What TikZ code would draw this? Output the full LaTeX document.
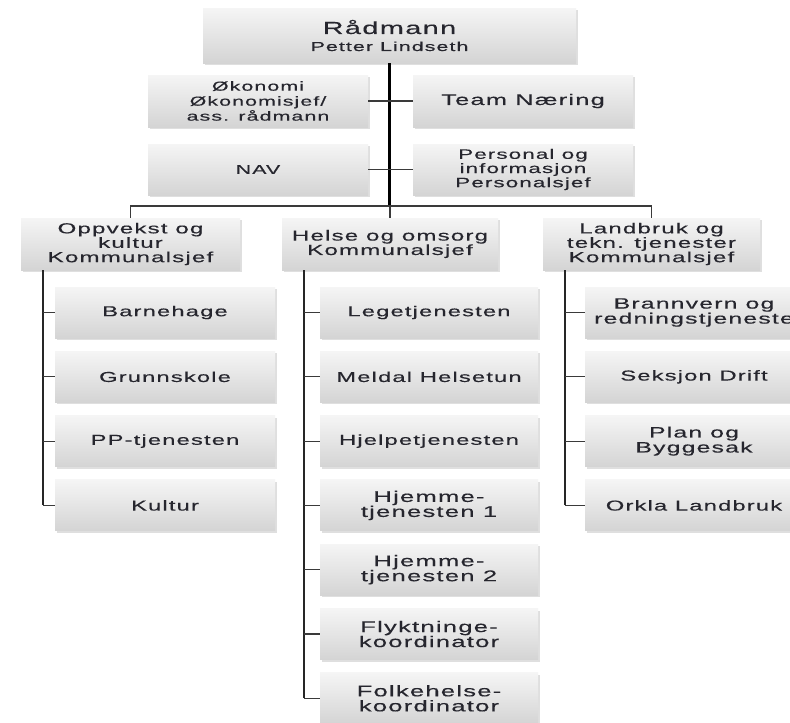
\documentclass[tikz,border=0pt]{standalone}
\usepackage{fontspec}
\setmainfont{Liberation Sans}[FakeStretch=1.65,LetterSpace=8,FakeBold=0.3]
\usetikzlibrary{shadows}
\definecolor{txt}{HTML}{26262E}
\definecolor{boxtop}{HTML}{F5F5F5}
\definecolor{boxbot}{HTML}{D4D4D4}
\definecolor{linegray}{HTML}{3A3A3A}
\newcommand{\fs}[2]{\fontsize{#1}{#2}\selectfont\lineskiplimit=-6pt\relax}
\tikzset{
  box/.style={draw=none, top color=boxtop, bottom color=boxbot,
    minimum width=218pt, minimum height=51pt, inner sep=1pt,
    align=center, text=txt, font=\fs{14.4}{14.5},
    drop shadow={opacity=0.25, shadow xshift=1.5pt, shadow yshift=-2pt, fill=gray}},
  trunk/.style={line width=2.6pt, draw=black},
  bus/.style={line width=2.2pt, draw=black!85},
  twig/.style={line width=1.1pt, draw=linegray}
}
\begin{document}
\begin{tikzpicture}[x=1pt,y=-1pt]
\useasboundingbox (0,0) rectangle (790,723);
\fill[white] (0,0) rectangle (790,723);
\clip (0,0) rectangle (790,723);

% top
\node[box, minimum width=373pt, minimum height=55pt, font=\fs{13}{15}] (rad) at (389.5,35.5)
  {{\fs{17.5}{19}Rådmann}\\[2pt]{\fs{13}{15}Petter Lindseth}};

% staff
\node[box, minimum width=220pt, minimum height=52pt, font=\fs{13}{15}] (oko) at (258,101) {Økonomi\\Økonomisjef/\\ass. rådmann};
\node[box, minimum width=220pt, minimum height=52pt, font=\fs{15.4}{15}] (team) at (523,101) {Team Næring};
\node[box, minimum width=220pt, font=\fs{13}{14}] (nav) at (258,169.5) {NAV};
\node[box, minimum width=220pt, font=\fs{13.6}{14.2}] (pers) at (523,169.5) {Personal og\\informasjon\\Personalsjef};

% level 2
\node[box, minimum width=219pt, minimum height=52pt, font=\fs{14.6}{14.4}] (opp) at (130.5,244) {Oppvekst og\\kultur\\Kommunalsjef};
\node[box, minimum width=216pt, minimum height=52pt, font=\fs{14.6}{14.4}] (hel) at (390,244) {Helse og omsorg\\Kommunalsjef};
\node[box, minimum width=217pt, minimum height=52pt, font=\fs{14.6}{14.4}] (lan) at (651.5,244) {Landbruk og\\tekn. tjenester\\Kommunalsjef};

% level 3 Oppvekst
\node[box, minimum width=220pt] (barn) at (165,312.5) {Barnehage};
\node[box, minimum width=220pt] (grunn) at (165,376.8) {Grunnskole};
\node[box, minimum width=220pt] (pp) at (165,441.1) {PP-tjenesten};
\node[box, minimum width=220pt] (kult) at (165,505.4) {Kultur};

% level 3 Helse
\node[box] (lege) at (429,312.5) {Legetjenesten};
\node[box] (meld) at (429,376.8) {Meldal Helsetun};
\node[box] (hjelp) at (429,441.1) {Hjelpetjenesten};
\node[box, font=\fs{15.5}{15}] (hj1) at (429,505.4) {Hjemme-\\tjenesten 1};
\node[box, font=\fs{15.5}{15}] (hj2) at (429,569.7) {Hjemme-\\tjenesten 2};
\node[box, font=\fs{15.5}{15}] (flykt) at (429,634) {Flyktninge-\\koordinator};
\node[box, font=\fs{15.5}{15}] (folk) at (429,698.3) {Folkehelse-\\koordinator};

% level 3 Landbruk
\node[box, font=\fs{15}{15}] (brann) at (694,312.5) {Brannvern og\\redningstjeneste};
\node[box] (seks) at (694,376.8) {Seksjon Drift};
\node[box, font=\fs{15}{15}] (plan) at (694,441.1) {Plan og\\Byggesak};
\node[box] (orkla) at (694,505.4) {Orkla Landbruk};

% connectors top
\coordinate (bar) at (390,206);
\draw[trunk] (rad.south) -- (rad.south |- bar);
\draw[twig] (oko.east) -- (team.west);
\draw[twig] (nav.east) -- (pers.west);
\draw[twig] (opp.north) -- (opp.north |- bar) -| (lan.north);
\draw[twig] (hel.north) -- (hel.north |- bar);

% buses
\coordinate (oppbus) at ([xshift=22pt]opp.south west);
\coordinate (helbus) at ([xshift=22pt]hel.south west);
\coordinate (lanbus) at ([xshift=22pt]lan.south west);
\draw[bus] (oppbus) -- (oppbus |- kult.west);
\draw[bus] (helbus) -- (helbus |- folk.west);
\draw[bus] (lanbus) -- (lanbus |- orkla.west);
\foreach \c in {barn,grunn,pp,kult} \draw[twig] (oppbus |- \c.west) -- (\c.west);
\foreach \c in {lege,meld,hjelp,hj1,hj2,flykt,folk} \draw[twig] (helbus |- \c.west) -- (\c.west);
\foreach \c in {brann,seks,plan,orkla} \draw[twig] (lanbus |- \c.west) -- (\c.west);
\end{tikzpicture}
\end{document}
